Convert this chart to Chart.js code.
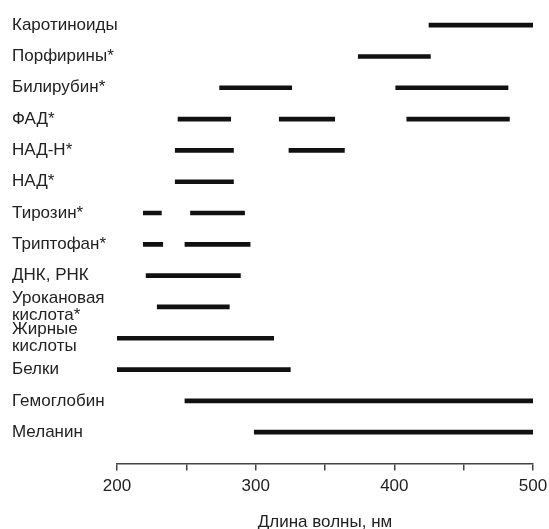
<!DOCTYPE html>
<html>
<head>
<meta charset="utf-8">
<script src="https://cdn.jsdelivr.net/npm/chart.js@4/dist/chart.umd.min.js"></script>
<style>
  html, body { margin: 0; padding: 0; background: #fff; }
  #wrap { width: 549px; height: 529px; }
</style>
</head>
<body>
<div id="wrap"><canvas id="absChart"></canvas></div>
<script>
// compounds, top to bottom
const COMPOUNDS = ["Каротиноиды", "Порфирины*", "Билирубин*", "ФАД*", "НАД-Н*", "НАД*",
    "Тирозин*", "Триптофан*", "ДНК, РНК", ["Урокановая", "кислота*"], ["Жирные", "кислоты"],
    "Белки", "Гемоглобин", "Меланин"];

// absorption bands, nm (first, second, third band of each compound)
const BAND1 = [[425, 500], [374, 426], [274, 326], [244, 282], [242, 284], [242, 284],
    [219, 232], [219, 233], [221, 289], [229, 281], [200, 313], [200, 325], [249, 500], [299, 500]];
const BAND2 = [null, null, [401, 482], [317, 357], [324, 364], null,
    [253, 292], [249, 296], null, null, null, null, null, null];
const BAND3 = [null, null, null, [409, 483], null, null,
    null, null, null, null, null, null, null, null];

const X_TICKS = [200, 300, 400, 500];
const X_TITLE = "Длина волны, нм";

const FONT = "'Liberation Sans', Arial, sans-serif";

function toPoints(bands){
    const pts = [];
    bands.forEach((b, i) => { if (b) pts.push({ y: i, x: b }); });
    return pts;
}

$ = s => document.querySelector(s);

function main(){
    const CANVAS = $("#absChart");
    const bandStyle = { backgroundColor: "#111", borderWidth: 0, barThickness: 4, grouped: false };

    new Chart(CANVAS, {
        type: "bar",
        data: {
            datasets: [
                Object.assign({ label: "полоса 1", data: toPoints(BAND1) }, bandStyle),
                Object.assign({ label: "полоса 2", data: toPoints(BAND2) }, bandStyle),
                Object.assign({ label: "полоса 3", data: toPoints(BAND3) }, bandStyle)
            ]
        },
        options: {
            indexAxis: "y",
            responsive: true,
            maintainAspectRatio: false,
            animation: false,
            layout: { padding: { left: 12, right: 16, top: 9.5, bottom: 0 } },
            plugins: { legend: { display: false }, tooltip: { enabled: false } },
            scales: {
                x: {
                    type: "linear",
                    bounds: "data",
                    min: 200,
                    max: 500,
                    afterFit: s => { s.paddingLeft = 0; s.paddingRight = 0; },
                    grid: { drawOnChartArea: false, tickLength: 7, color: "#444", lineWidth: 1.5 },
                    border: { display: true, color: "#444", width: 1.5 },
                    ticks: {
                        stepSize: 50,
                        padding: 6,
                        color: "#222",
                        font: { family: FONT, size: 17 },
                        maxRotation: 0,
                        autoSkip: false,
                        callback: v => X_TICKS.includes(v) ? String(v) : ""
                    },
                    title: {
                        display: true,
                        text: X_TITLE,
                        color: "#222",
                        font: { family: FONT, size: 17, lineHeight: 0.8 },
                        padding: { top: 12.5, bottom: 0 }
                    }
                },
                y: {
                    type: "linear",
                    bounds: "data",
                    offset: false,
                    reverse: true,
                    min: -0.5,
                    max: 14,
                    grid: { display: false, offset: false },
                    border: { display: false },
                    afterBuildTicks: s => { s.ticks = COMPOUNDS.map((_, i) => ({ value: i })); },
                    afterFit: s => { s.width = 105; s.paddingTop = 0; s.paddingBottom = 0; },
                    ticks: {
                        crossAlign: "far",
                        autoSkip: false,
                        color: "#222",
                        font: { family: FONT, size: 17, lineHeight: 1.0 },
                        callback: v => COMPOUNDS[v]
                    }
                }
            }
        }
    });
}

main();
</script>
</body>
</html>
